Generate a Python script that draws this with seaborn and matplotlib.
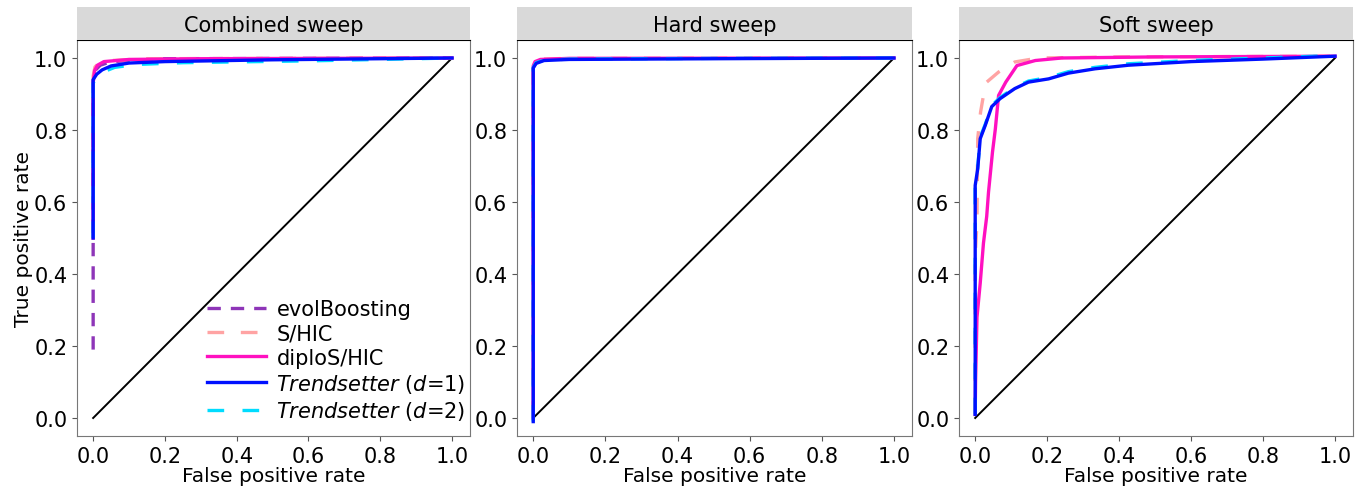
import matplotlib
matplotlib.use("Agg")
from matplotlib import pyplot as plt
import seaborn as sns

# ROC curves
panels = ["Combined sweep", "Hard sweep", "Soft sweep"]
methods = ["evolBoosting", "S/HIC", "diploS/HIC",
           r"$\it{Trendsetter}$ ($d$=1)", r"$\it{Trendsetter}$ ($d$=2)"]
chance = [0, 1]

# Combined sweep
comb_evol_fpr = [0, 0, 0.005, 0.02, 0.05, 0.2, 1.0]
comb_evol_tpr = [0.19, 0.94, 0.965, 0.98, 0.99, 0.998, 1.0]
comb_shic_fpr = [0, 0, 0.005, 0.015, 0.05, 0.15, 1.0]
comb_shic_tpr = [0.66, 0.95, 0.975, 0.985, 0.993, 0.998, 1.0]
comb_diplo_fpr = [0, 0, 0.004, 0.012, 0.03, 0.1, 0.3, 1.0]
comb_diplo_tpr = [0.5, 0.93, 0.965, 0.98, 0.99, 0.996, 0.998, 1.0]
comb_ts1_fpr = [0, 0, 0.01, 0.025, 0.05, 0.1, 0.2, 0.5, 1.0]
comb_ts1_tpr = [0.5, 0.94, 0.955, 0.967, 0.978, 0.986, 0.99, 0.995, 1.0]
comb_ts2_fpr = [0, 0, 0.01, 0.03, 0.06, 0.12, 0.25, 0.6, 1.0]
comb_ts2_tpr = [0.5, 0.93, 0.948, 0.962, 0.974, 0.982, 0.987, 0.992, 1.0]

# Hard sweep
hard_shic_fpr = [0, 0, 0.005, 0.02, 0.1, 1.0]
hard_shic_tpr = [0.0, 0.98, 0.992, 0.997, 0.999, 1.0]
hard_diplo_fpr = [0, 0, 0.005, 0.02, 0.1, 1.0]
hard_diplo_tpr = [0.0, 0.978, 0.99, 0.996, 0.999, 1.0]
hard_ts1_fpr = [0, 0, 0.008, 0.03, 0.1, 0.5, 1.0]
hard_ts1_tpr = [-0.01, 0.972, 0.985, 0.993, 0.996, 0.998, 1.0]
hard_ts2_fpr = [0, 0, 0.008, 0.03, 0.1, 0.5, 1.0]
hard_ts2_tpr = [-0.01, 0.974, 0.987, 0.994, 0.997, 0.999, 1.0]

# Soft sweep
soft_shic_fpr = [0, 0, 0.005, 0.007, 0.015, 0.023, 0.032, 0.065, 0.11, 0.176, 0.4, 1.0]
soft_shic_tpr = [0.01, 0.45, 0.544, 0.776, 0.85, 0.896, 0.933, 0.961, 0.989, 1.0, 1.003, 1.005]
soft_diplo_fpr = [0, 0.001, 0.005, 0.014, 0.023, 0.032, 0.037, 0.048, 0.056, 0.065,
                  0.085, 0.116, 0.167, 0.24, 0.5, 1.0]
soft_diplo_tpr = [0.01, 0.1, 0.28, 0.375, 0.486, 0.56, 0.627, 0.738, 0.803, 0.896,
                  0.933, 0.979, 0.993, 1.0, 1.003, 1.005]
soft_ts1_fpr = [0, 0, 0.007, 0.014, 0.028, 0.046, 0.069, 0.11, 0.148, 0.204, 0.259,
                0.333, 0.426, 0.6, 0.8, 1.0]
soft_ts1_tpr = [0.01, 0.646, 0.692, 0.776, 0.813, 0.865, 0.887, 0.915, 0.933, 0.942,
                0.958, 0.97, 0.98, 0.99, 0.997, 1.005]
soft_ts2_fpr = [0, 0, 0.007, 0.014, 0.028, 0.046, 0.069, 0.11, 0.148, 0.204, 0.259,
                0.333, 0.426, 0.6, 0.8, 1.0]
soft_ts2_tpr = [0.01, 0.65, 0.695, 0.78, 0.816, 0.868, 0.89, 0.918, 0.936, 0.946,
                0.962, 0.974, 0.984, 0.993, 1.0, 1.007]

curves = [
    [(comb_evol_fpr, comb_evol_tpr), (comb_shic_fpr, comb_shic_tpr),
     (comb_diplo_fpr, comb_diplo_tpr), (comb_ts1_fpr, comb_ts1_tpr),
     (comb_ts2_fpr, comb_ts2_tpr)],
    [None, (hard_shic_fpr, hard_shic_tpr), (hard_diplo_fpr, hard_diplo_tpr),
     (hard_ts1_fpr, hard_ts1_tpr), (hard_ts2_fpr, hard_ts2_tpr)],
    [None, (soft_shic_fpr, soft_shic_tpr), (soft_diplo_fpr, soft_diplo_tpr),
     (soft_ts1_fpr, soft_ts1_tpr), (soft_ts2_fpr, soft_ts2_tpr)],
]

colors = ["#8e35b8", "#ffa3a3", "#ff10c0", "#0010ff", "#00dcff"]
styles = [(0, (4, 3)), (0, (5, 5)), "-", "-", (0, (5, 5.5))]
draw_order = [0, 1, 2, 4, 3]  # cyan under blue

fig = plt.figure(figsize=(13.64, 4.89), dpi=100)
lefts = [77, 517, 959]
widths = [393, 395, 394]
W, H = 1364, 489

for i, name in enumerate(panels):
    ax = fig.add_axes([lefts[i] / W, (H - 437) / H, widths[i] / W, 396 / H])
    strip = fig.add_axes([lefts[i] / W, (H - 41) / H, widths[i] / W, 33 / H])
    strip.set_facecolor("#d9d9d9")
    strip.set_xticks([])
    strip.set_yticks([])
    for s in strip.spines.values():
        s.set_visible(False)
    strip.text(0.5, 0.45, name, ha="center", va="center", fontsize=15,
               transform=strip.transAxes)

    sns.lineplot(x=chance, y=chance, ax=ax, color="black", lw=1.4,
                 estimator=None, sort=False)
    handles = {}
    for j in draw_order:
        c = curves[i][j]
        if c is None:
            continue
        sns.lineplot(x=c[0], y=c[1], ax=ax, color=colors[j], lw=2.4,
                     linestyle=styles[j], estimator=None, sort=False)
        handles[j] = ax.lines[-1]

    ax.set_xlim(-0.045, 1.05)
    ax.set_ylim(-0.05, 1.05)
    ax.set_xticks([0, 0.2, 0.4, 0.6, 0.8, 1.0])
    ax.set_yticks([0, 0.2, 0.4, 0.6, 0.8, 1.0])
    ax.tick_params(labelsize=15, color="#555555")
    ax.set_xlabel("False positive rate", fontsize=14.5, labelpad=0.5)
    if i == 0:
        ax.set_ylabel("True positive rate", fontsize=14.5, labelpad=0.5)
        ax.legend([handles[j] for j in range(5)], methods,
                  loc="lower right", bbox_to_anchor=(1.0, 0.025),
                  frameon=False, fontsize=15,
                  handlelength=2.85, labelspacing=0.2, borderaxespad=0.1,
                  borderpad=0.1, handletextpad=0.5)
    for side in ["left", "right", "bottom"]:
        ax.spines[side].set_color("#777777")
    ax.spines["top"].set_color("black")

fig.savefig("out.png", dpi=100)
